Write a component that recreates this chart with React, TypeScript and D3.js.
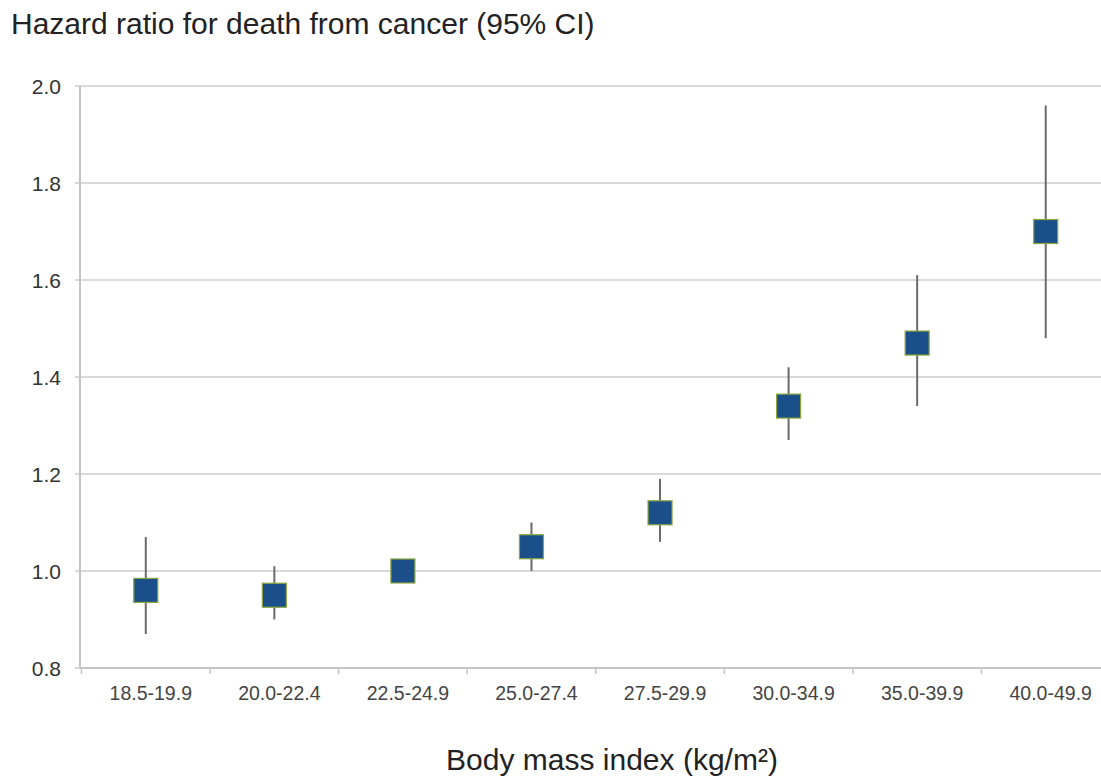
import * as d3 from 'd3';
import { useEffect, useRef } from 'react';

const categories = [
  '18.5-19.9',
  '20.0-22.4',
  '22.5-24.9',
  '25.0-27.4',
  '27.5-29.9',
  '30.0-34.9',
  '35.0-39.9',
  '40.0-49.9',
];
const hazard = [0.96, 0.95, 1.0, 1.05, 1.12, 1.34, 1.47, 1.7];
const lower = [0.87, 0.9, 1.0, 1.0, 1.06, 1.27, 1.34, 1.48];
const upper = [1.07, 1.01, 1.0, 1.1, 1.19, 1.42, 1.61, 1.96];
const yTicks = [0.8, 1.0, 1.2, 1.4, 1.6, 1.8, 2.0];

export default function App() {
  const ref = useRef<HTMLDivElement>(null);

  useEffect(() => {
    const width = 1101;
    const height = 776;
    const font = 'Liberation Sans, Arial, sans-serif';

    d3.select(ref.current).selectAll('*').remove();

    const svg = d3
      .select(ref.current)
      .append('svg')
      .attr('width', width)
      .attr('height', height)
      .style('display', 'block')
      .style('background', '#fff');

    const x = d3.scaleBand().domain(categories).range([81.5, 1110]).padding(0);
    const y = d3.scaleLinear().domain([0.8, 2.0]).range([668, 86]);
    const axisX = 80;

    /* ---------- GRIDLINES ---------- */
    svg
      .selectAll('.grid')
      .data(yTicks)
      .enter()
      .append('line')
      .attr('x1', axisX - 5)
      .attr('x2', width)
      .attr('y1', d => y(d))
      .attr('y2', d => y(d))
      .attr('stroke', '#d9d9d9')
      .attr('stroke-width', 2);

    /* ---------- AXES ---------- */
    svg
      .append('line')
      .attr('x1', axisX)
      .attr('x2', axisX)
      .attr('y1', y(2.0))
      .attr('y2', y(0.8))
      .attr('stroke', '#c4c4c4')
      .attr('stroke-width', 2);

    svg
      .append('line')
      .attr('x1', axisX)
      .attr('x2', width)
      .attr('y1', y(0.8))
      .attr('y2', y(0.8))
      .attr('stroke', '#c4c4c4')
      .attr('stroke-width', 2);

    svg
      .selectAll('.xtick')
      .data(categories)
      .enter()
      .append('line')
      .attr('x1', d => x(d)!)
      .attr('x2', d => x(d)!)
      .attr('y1', y(0.8))
      .attr('y2', y(0.8) + 6)
      .attr('stroke', '#c4c4c4')
      .attr('stroke-width', 1.5);

    svg
      .selectAll('.ylabel')
      .data(yTicks)
      .enter()
      .append('text')
      .attr('x', 61)
      .attr('y', d => y(d))
      .attr('dy', '0.36em')
      .attr('text-anchor', 'end')
      .attr('fill', '#333')
      .style('font-family', font)
      .style('font-size', '21px')
      .text(d => d.toFixed(1));

    svg
      .selectAll('.xlabel')
      .data(categories)
      .enter()
      .append('text')
      .attr('x', d => x(d)! + x.bandwidth() / 2 + 5)
      .attr('y', 700)
      .attr('text-anchor', 'middle')
      .attr('fill', '#444')
      .style('font-family', font)
      .style('font-size', '19.5px')
      .text(d => d);

    /* ---------- CI WHISKERS ---------- */
    svg
      .selectAll('.ci')
      .data(categories)
      .enter()
      .append('line')
      .attr('x1', d => x(d)! + x.bandwidth() / 2)
      .attr('x2', d => x(d)! + x.bandwidth() / 2)
      .attr('y1', (_, i) => y(upper[i]))
      .attr('y2', (_, i) => y(lower[i]))
      .attr('stroke', '#6a6a6a')
      .attr('stroke-width', 2);

    /* ---------- MARKERS ---------- */
    const size = 24;
    svg
      .selectAll('.marker')
      .data(categories)
      .enter()
      .append('rect')
      .attr('x', d => x(d)! + x.bandwidth() / 2 - size / 2)
      .attr('y', (_, i) => y(hazard[i]) - size / 2)
      .attr('width', size)
      .attr('height', size)
      .attr('fill', '#1a4f8a')
      .attr('stroke', '#8aa63c')
      .attr('stroke-width', 1.2);

    /* ---------- TITLES ---------- */
    svg
      .append('text')
      .attr('x', 11)
      .attr('y', 34)
      .attr('fill', '#222')
      .style('font-family', font)
      .style('font-size', '30px')
      .text('Hazard ratio for death from cancer (95% CI)');

    svg
      .append('text')
      .attr('x', 612)
      .attr('y', 770)
      .attr('text-anchor', 'middle')
      .attr('fill', '#222')
      .style('font-family', font)
      .style('font-size', '30px')
      .text('Body mass index (kg/m²)');
  }, []);

  return (
    <div style={{ position: 'absolute', left: 0, top: 0 }}>
      <div ref={ref} />
    </div>
  );
}
